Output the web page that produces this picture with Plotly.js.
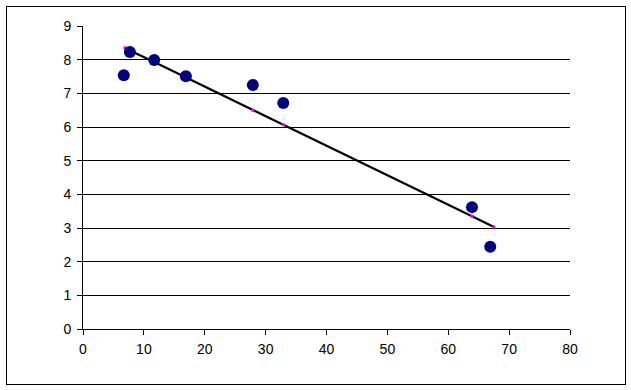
<!DOCTYPE html>
<html>
<head>
<meta charset="utf-8">
<script src="https://cdn.plot.ly/plotly-3.0.1.min.js"></script>
<style>
  html, body { margin: 0; padding: 0; background: #fff; }
  #wrap { position: relative; width: 631px; height: 390px; }
  #chart { width: 631px; height: 390px; }
  #frame { position: absolute; left: 6px; top: 6px; width: 618px; height: 377px; border: 1px solid #000; pointer-events: none; }
</style>
</head>
<body>
<div id="wrap">
  <div id="chart"></div>
  <div id="frame"></div>
</div>
<script>
const xValues = [6.7, 7.7, 11.7, 16.9, 27.9, 32.9, 63.9, 66.9];
const yValues = [7.54, 8.23, 7.99, 7.51, 7.25, 6.71, 3.62, 2.44];
const fitX = [6.9, 7.7, 11.7, 16.9, 27.9, 32.9, 63.9, 67.5];
const fitY = [8.35, 8.27, 7.93, 7.47, 6.50, 6.07, 3.35, 3.03];
const xTicks = [0, 10, 20, 30, 40, 50, 60, 70, 80];
const yTicks = [0, 1, 2, 3, 4, 5, 6, 7, 8, 9];

const data = [
  {
    x: fitX, y: fitY, type: 'scatter', mode: 'lines+markers',
    line: { color: '#000000', width: 2.2 },
    marker: { color: '#ff00ff', size: 3, symbol: 'square' },
    hoverinfo: 'none'
  },
  {
    x: xValues, y: yValues, type: 'scatter', mode: 'markers',
    marker: { color: '#000080', size: 12, line: { width: 0 } }
  }
];

const layout = {
  width: 631, height: 390,
  margin: { l: 83, r: 61, t: 26, b: 61 },
  paper_bgcolor: '#ffffff', plot_bgcolor: '#ffffff',
  showlegend: false,
  font: { family: 'Liberation Sans, Arial, sans-serif', size: 14, color: '#000' },
  xaxis: {
    range: [0, 80], tickvals: xTicks, ticktext: xTicks.map(String),
    showgrid: false, zeroline: false, showline: true, linecolor: '#000', linewidth: 1,
    ticks: 'outside', ticklen: 5, tickcolor: '#000', tickwidth: 1,
    tickfont: { size: 14 }, ticklabelstandoff: 2, fixedrange: true
  },
  yaxis: {
    range: [0, 9], tickvals: yTicks, ticktext: yTicks.map(String),
    showgrid: true, gridcolor: '#000', gridwidth: 1,
    zeroline: false, showline: true, linecolor: '#000', linewidth: 1,
    ticks: 'outside', ticklen: 5, tickcolor: '#000', tickwidth: 1,
    tickfont: { size: 14 }, ticklabelstandoff: 3, fixedrange: true
  }
};

Plotly.newPlot('chart', data, layout, { displayModeBar: false, staticPlot: true });
</script>
</body>
</html>
